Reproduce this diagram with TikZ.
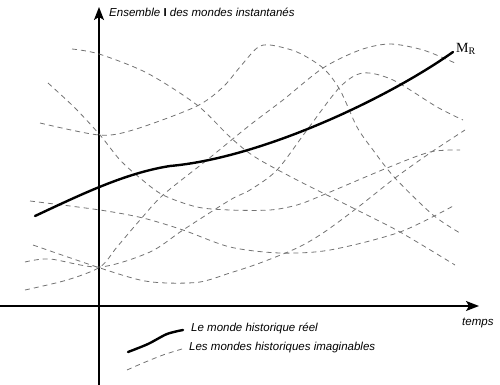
\documentclass[tikz,border=0pt]{standalone}
\usepackage{fontspec}
\setmainfont{Liberation Sans}
\newfontfamily\mrfont{Liberation Serif}
\usetikzlibrary{arrows.meta}
\begin{document}
\begin{tikzpicture}[x=1pt,y=-1pt,
  axisline/.style={line width=1.4pt,-{Stealth[length=13pt,width=10pt,inset=3pt]}},
  realworld/.style={line width=2.4pt,line cap=round},
  imagworld/.style={line width=0.8pt,black!55,dash pattern=on 5pt off 4pt},
  lbl/.style={font=\fontsize{11.5}{13}\selectfont\itshape,inner sep=0pt,anchor=west}]
\useasboundingbox (0,0) rectangle (500,385);
% axes
\coordinate (yb) at (99,385);
\coordinate (yt) at (99,7);
\coordinate (xl) at (0,306);
\coordinate (xr) at (479,306);
\draw[axisline] (yb) -- (yt);
\draw[axisline] (xl) -- (xr);
% imaginable worlds
\draw[imagworld] plot[smooth] coordinates {(72,49) (99,54) (147,73) (197,105) (230,137) (255,157) (297,180) (357,210) (400,232) (455,265)};
\draw[imagworld] plot[smooth] coordinates {(40,123) (99,135) (133,130) (195,107) (222,88) (240,67) (257,48) (270,45) (297,52) (323,68) (340,90) (357,127) (373,150) (395,178) (433,215) (460,233)};
\draw[imagworld] plot[smooth] coordinates {(48,83) (75,108) (100,135) (120,160) (140,178) (163,195) (197,207) (230,210) (270,210) (297,205) (323,195) (387,168) (430,152) (460,150)};
\draw[imagworld] plot[smooth] coordinates {(25,290) (67,280) (100,267) (117,247) (140,220) (163,195) (207,160) (250,125) (283,100) (323,68) (360,50) (390,44) (423,50) (455,63)};
\draw[imagworld] plot[smooth] coordinates {(25,262) (50,259) (100,267) (150,252) (183,230) (230,200) (250,190) (277,170) (307,130) (340,87) (363,73) (393,80) (437,107) (463,120)};
\draw[imagworld] plot[smooth] coordinates {(30,201) (100,210) (143,218) (183,230) (230,247) (280,253) (330,250) (400,232) (455,205)};
\draw[imagworld] plot[smooth] coordinates {(33,245) (100,268) (140,280) (167,283) (200,282) (230,273) (260,263) (297,248) (323,233) (357,208) (395,178) (430,153) (465,130)};
% real world
\coordinate (rs) at (35,216);
\coordinate (rm) at (170,166);
\coordinate (re) at (453,52);
\draw[realworld] (rs) .. controls (80,195) and (125,173) .. (rm)
                      .. controls (260,158) and (385,100) .. (re);
\node[inner sep=0pt,anchor=base west] (mr) at (456,53) {\mrfont\fontsize{14}{14}\selectfont M\raisebox{-1.5pt}{\fontsize{10}{10}\selectfont R}};
% labels
\node[lbl] (ens) at (109,12) {Ensemble \textbf{\upshape I} des mondes instantanés};
\node[lbl] (temps) at (462,323) {temps};
% legend
\draw[realworld] plot[smooth] coordinates {(128,352) (148,344) (167,334) (183,330)};
\draw[imagworld] plot[smooth] coordinates {(127,370) (143,363) (163,355) (182,349)};
\node[lbl] (lreal) at (191,328) {Le monde historique réel};
\node[lbl] (limag) at (189,348) {Les mondes historiques imaginables};
\end{tikzpicture}
\end{document}
